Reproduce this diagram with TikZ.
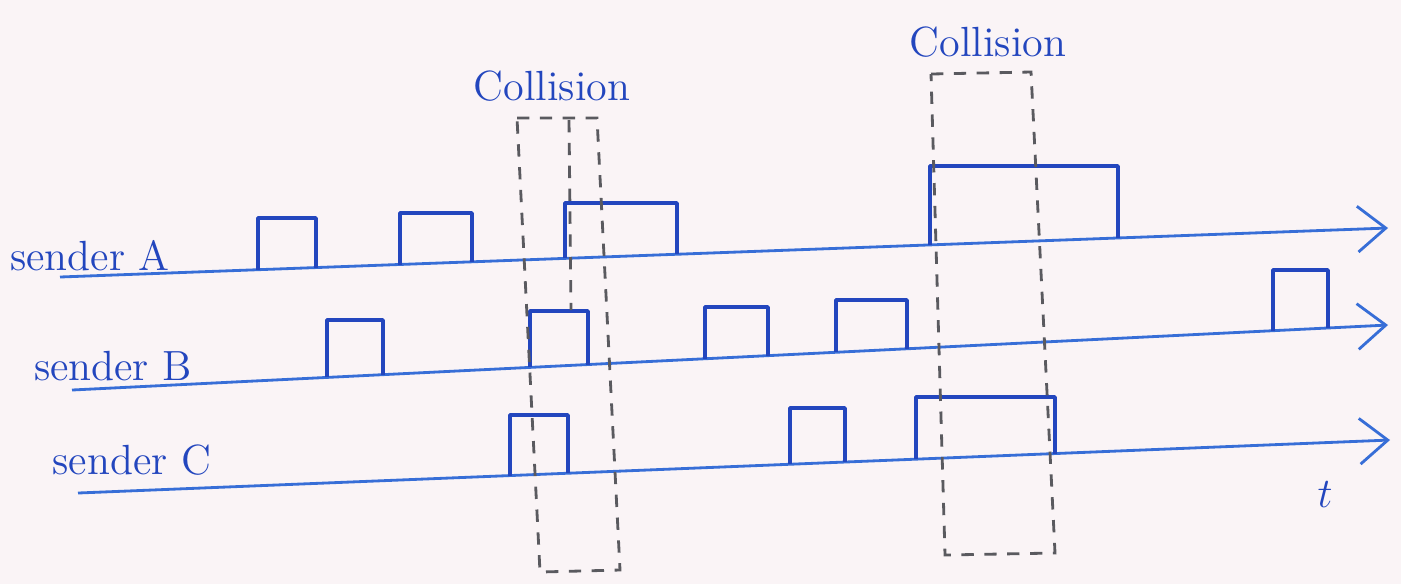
\documentclass[tikz,border=0pt]{standalone}
\usepackage{tikz}
\usetikzlibrary{arrows.meta}

\definecolor{paper}{RGB}{250,244,246}
\definecolor{ink}{RGB}{35,70,190}
\definecolor{axisblue}{RGB}{55,110,215}
\definecolor{pencil}{RGB}{90,90,95}

\tikzset{
  axisline/.style={axisblue,line width=0.8pt,-{Straight Barb[length=8pt,width=13pt]}},
  pulse/.style={ink,line width=1pt,line join=round},
  collbox/.style={pencil,line width=0.8pt,dash pattern=on 3.5pt off 3pt},
  handtext/.style={ink,font=\large},
}

\begin{document}
\begin{tikzpicture}[x=0.01cm,y=-0.01cm]
\fill[paper] (0,0) rectangle (1401,584);
\useasboundingbox (0,0) rectangle (1401,584);

% time axes of the three senders
\coordinate (a0) at (60,277);  \coordinate (a1) at (1388,228);
\coordinate (b0) at (72,390);  \coordinate (b1) at (1388,325);
\coordinate (c0) at (78,493);  \coordinate (c1) at (1390,440);
\draw[axisline] (a0) -- (a1);
\draw[axisline] (b0) -- (b1);
\draw[axisline] (c0) -- (c1);

\node[handtext] (lblA) at (90,256) {sender A};
\node[handtext] (lblB) at (113,366) {sender B};
\node[handtext] (lblC) at (132,460) {sender C};
\node[handtext] (tlbl) at (1325,495) {$t$};

% frames sent by A
\foreach \xa/\ya/\xb/\yb/\h in {258/269.7/316/267.6/218, 400/264.5/472/261.8/213,
    565/258.4/677/254.2/203, 930/244.9/1118/238/166}
  \draw[pulse] (\xa,\ya) -- (\xa,\h) -- (\xb,\h) -- (\xb,\yb);
% frames sent by B
\foreach \xa/\ya/\xb/\yb/\h in {327/377.4/383/374.6/320, 530/367.4/588/364.5/311,
    705/358.7/768/355.6/307, 836/352.3/907/348.8/300, 1273/330.7/1328/328/270}
  \draw[pulse] (\xa,\ya) -- (\xa,\h) -- (\xb,\h) -- (\xb,\yb);
% frames sent by C
\foreach \xa/\ya/\xb/\yb/\h in {510/475.5/568/473.2/415, 790/464.2/845/462/408,
    916/459.1/1055/453.5/397}
  \draw[pulse] (\xa,\ya) -- (\xa,\h) -- (\xb,\h) -- (\xb,\yb);

% first collision
\node[handtext] (col1) at (552,86) {Collision};
\draw[collbox] (517,118) -- (597,118) -- (620,570) -- (540,572) -- cycle;
\draw[collbox] (569,120) -- (571,310);

% second collision
\node[handtext] (col2) at (988,42) {Collision};
\draw[collbox] (931,74) -- (1031,72) -- (1055,553) -- (945,555) -- cycle;
\end{tikzpicture}
\end{document}
